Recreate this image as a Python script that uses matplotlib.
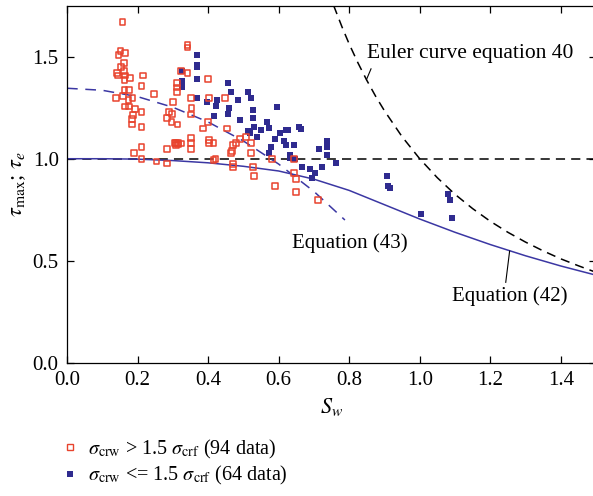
import numpy as np
import matplotlib
matplotlib.use('Agg')
import matplotlib.pyplot as plt
from matplotlib.lines import Line2D

plt.rcParams['font.family'] = ['Liberation Serif', 'DejaVu Serif']
plt.rcParams['mathtext.fontset'] = 'stix'

# test data, sigma_crw > 1.5 sigma_crf (red open squares)
red_x = [0.157, 0.342, 0.342, 0.152, 0.165, 0.146, 0.162, 0.154, 0.141, 0.145,
         0.162, 0.165, 0.178, 0.163, 0.216, 0.211, 0.163, 0.176, 0.246, 0.139,
         0.159, 0.174, 0.186, 0.164, 0.176, 0.192, 0.211, 0.188, 0.184, 0.184,
         0.211, 0.300, 0.311, 0.311, 0.311, 0.323, 0.342, 0.399, 0.351, 0.402,
         0.447, 0.353, 0.289, 0.298, 0.283, 0.296, 0.313, 0.351, 0.385, 0.454,
         0.399, 0.211, 0.190, 0.211, 0.283, 0.305, 0.315, 0.323, 0.309, 0.315,
         0.309, 0.351, 0.351, 0.351, 0.403, 0.403, 0.415, 0.254, 0.283, 0.415,
         0.421, 0.507, 0.490, 0.479, 0.471, 0.521, 0.468, 0.464, 0.521, 0.471,
         0.471, 0.528, 0.530, 0.582, 0.589, 0.643, 0.643, 0.649, 0.649, 0.712]
red_y = [1.668, 1.557, 1.545, 1.529, 1.519, 1.508, 1.470, 1.449, 1.421, 1.408,
         1.428, 1.408, 1.396, 1.385, 1.408, 1.357, 1.336, 1.336, 1.318, 1.299,
         1.307, 1.287, 1.299, 1.255, 1.255, 1.242, 1.229, 1.214, 1.193, 1.168,
         1.157, 1.279, 1.369, 1.348, 1.328, 1.429, 1.418, 1.389, 1.299, 1.299,
         1.299, 1.248, 1.229, 1.219, 1.198, 1.178, 1.167, 1.217, 1.148, 1.148,
         1.178, 1.059, 1.028, 0.998, 1.047, 1.078, 1.078, 1.074, 1.067, 1.070,
         1.078, 1.100, 1.078, 1.047, 1.093, 1.078, 1.078, 0.986, 0.977, 0.994,
         1.000, 1.108, 1.096, 1.078, 1.067, 1.078, 1.038, 1.029, 1.029, 0.974,
         0.961, 0.958, 0.917, 0.999, 0.868, 0.999, 0.929, 0.899, 0.837, 0.798]

# test data, sigma_crw <= 1.5 sigma_crf (blue filled squares)
blue_x = [0.368, 0.368, 0.368, 0.368, 0.325, 0.325, 0.325, 0.368, 0.396, 0.424,
          0.422, 0.456, 0.464, 0.485, 0.460, 0.417, 0.457, 0.490, 0.514, 0.521,
          0.526, 0.528, 0.531, 0.514, 0.519, 0.539, 0.550, 0.566, 0.573, 0.596,
          0.604, 0.591, 0.616, 0.621, 0.627, 0.621, 0.643, 0.659, 0.664, 0.579,
          0.574, 0.632, 0.632, 0.646, 0.665, 0.688, 0.702, 0.696, 0.724, 0.715,
          0.738, 0.738, 0.736, 0.764, 0.906, 0.909, 0.915, 1.005, 1.080, 1.087,
          1.092]
blue_y = [1.508, 1.459, 1.447, 1.389, 1.429, 1.380, 1.349, 1.299, 1.279, 1.287,
          1.258, 1.369, 1.329, 1.287, 1.247, 1.209, 1.219, 1.189, 1.328, 1.299,
          1.238, 1.198, 1.157, 1.136, 1.127, 1.108, 1.140, 1.181, 1.149, 1.254,
          1.128, 1.098, 1.089, 1.139, 1.140, 1.067, 1.067, 1.157, 1.147, 1.055,
          1.026, 1.020, 1.003, 0.999, 0.958, 0.948, 0.929, 0.908, 0.958, 1.047,
          1.087, 1.056, 1.018, 0.977, 0.917, 0.868, 0.858, 0.728, 0.827, 0.798,
          0.708]

# curves
euler_x = [0.756, 0.78, 0.80, 0.825, 0.85, 0.875, 0.90, 0.95, 1.00, 1.05, 1.10,
           1.15, 1.20, 1.25, 1.30, 1.35, 1.40, 1.45, 1.50]
euler_y = [1.750, 1.644, 1.562, 1.469, 1.384, 1.306, 1.235, 1.108, 1.000, 0.907,
           0.826, 0.756, 0.694, 0.640, 0.592, 0.549, 0.510, 0.476, 0.444]
eq42_x = [0.0, 0.1, 0.2, 0.3, 0.4, 0.5, 0.6, 0.7, 0.8, 0.9, 1.0, 1.1, 1.2, 1.3, 1.4, 1.5]
eq42_y = [1.000, 1.000, 0.998, 0.991, 0.980, 0.963, 0.940, 0.900, 0.845, 0.775,
          0.705, 0.640, 0.580, 0.525, 0.475, 0.430]
eq43_x = [0.0, 0.1, 0.2, 0.3, 0.4, 0.5, 0.6, 0.7, 0.788]
eq43_y = [1.345, 1.335, 1.304, 1.252, 1.180, 1.087, 0.974, 0.840, 0.700]
ref_x = [0.0, 1.5]
ref_y = [1.0, 1.0]

red = '#e8432d'
blue = '#2f2b8f'
lblue = '#3b37a3'

fig = plt.figure(figsize=(5.93, 4.96), dpi=100)
ax = fig.add_axes([0.1130, 0.2681, 0.8921, 0.7208])

ax.plot(ref_x, ref_y, color='black', lw=1.1, ls=(0, (6, 4)), zorder=2)
ax.plot(euler_x, euler_y, color='black', lw=1.1, ls=(0, (6, 4)), zorder=2)
ax.plot(eq42_x, eq42_y, color=lblue, lw=1.1, zorder=2)
ax.plot(eq43_x, eq43_y, color=lblue, lw=1.1, ls=(0, (7, 5)), zorder=2)

ax.scatter(blue_x, blue_y, marker='s', s=24, color=blue, lw=0, zorder=3)
ax.scatter(red_x, red_y, marker='s', s=17, facecolors='none', edgecolors=red,
           lw=1.1, zorder=4)

ax.text(0.850, 1.517, 'Euler curve equation 40', fontsize=15.5, ha='left', va='center')
ax.plot([0.862, 0.849], [1.440, 1.387], color='black', lw=0.8)
ax.text(0.637, 0.587, 'Equation (43)', fontsize=15, ha='left', va='center')
ax.text(1.091, 0.328, 'Equation (42)', fontsize=15, ha='left', va='center')
ax.plot([1.244, 1.255], [0.395, 0.548], color='black', lw=0.8)

ax.set_xlim(0, 1.5)
ax.set_ylim(0, 1.75)
xt = np.arange(0, 1.41, 0.2)
ax.set_xticks(xt)
ax.set_xticklabels(['%.1f' % v for v in xt])
ax.set_yticks([0, 0.5, 1.0, 1.5])
ax.set_yticklabels(['0.0', '0.5', '1.0', '1.5'])
ax.tick_params(direction='in', top=True, right=True, length=5, width=0.9,
               labelsize=15, pad=6)
for s in ax.spines.values():
    s.set_linewidth(0.9)

ax.set_xlabel(r'$S_w$', fontsize=16, labelpad=4)
ax.set_ylabel(r'$\tau_{\rm max}$; $\tau_e$', fontsize=16, labelpad=3)

handles = [Line2D([], [], marker='s', ls='none', mfc='none', mec=red, ms=4, mew=1.0),
           Line2D([], [], marker='s', ls='none', mfc=blue, mec=blue, ms=4.5, mew=0)]
labels = [r'$\sigma_{\rm crw}$ > 1.5 $\sigma_{\rm crf}$ (94 data)',
          r'$\sigma_{\rm crw}$ <= 1.5 $\sigma_{\rm crf}$ (64 data)']
fig.legend(handles, labels, loc='upper left', bbox_to_anchor=(60 / 593, 1 - 438 / 496),
           frameon=False, fontsize=14.5, handlelength=1.0, handletextpad=0.4,
           labelspacing=0.15, borderpad=0, borderaxespad=0)

fig.savefig('out.png', dpi=100)
